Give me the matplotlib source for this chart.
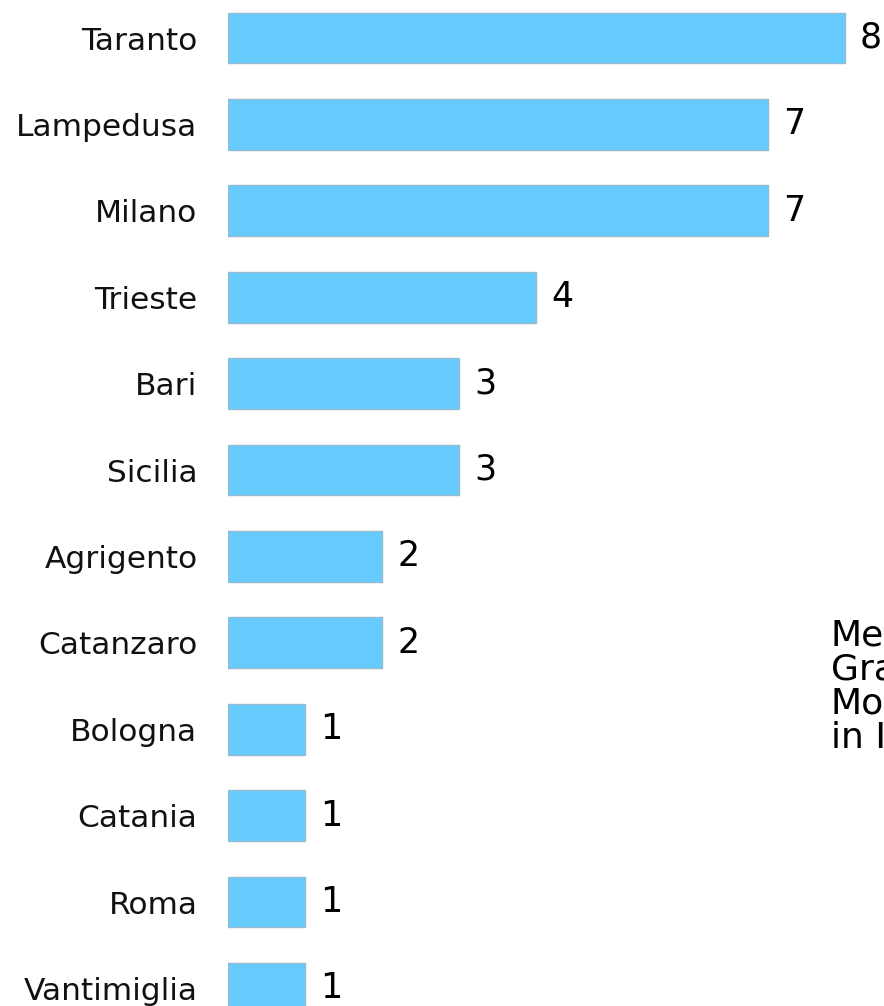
import matplotlib
matplotlib.use("Agg")
import matplotlib.pyplot as plt

# data
cities = ["Taranto", "Lampedusa", "Milano", "Trieste", "Bari", "Sicilia",
          "Agrigento", "Catanzaro", "Bologna", "Catania", "Roma", "Vantimiglia"]
counts = [8, 7, 7, 4, 3, 3, 2, 2, 1, 1, 1, 1]
side_note = "Media\nGrafico\nMorti\nin Italia"

W, H = 884, 1006
fig = plt.figure(figsize=(W / 100, H / 100), dpi=100)

# axes spans from the bar origin to the right edge, full height
x0 = 228
unit = 77.1     # px per count
step = 86.4     # px between bars
top_c = 38      # px of first bar centre
ax = fig.add_axes([x0 / W, 0, 1 - x0 / W, 1])
ax.set_xlim(0, (W - x0) / unit)
ax.set_ylim((H - top_c) / step, -top_c / step)

ypos = list(range(len(cities)))
ax.barh(ypos, counts, height=0.59, color="#66CCFF", edgecolor="#95B9CF", linewidth=1)

for y, v in zip(ypos, counts):
    ax.annotate(str(v), (v, y), xytext=(11, 0), textcoords="offset points",
                va="center", ha="left", fontsize=25, color="black")

ax.set_yticks(ypos)
ax.set_yticklabels(cities, fontsize=22.5, color="#111111")
ax.tick_params(axis="y", length=0, pad=22)
ax.set_xticks([])
for s in ax.spines.values():
    s.set_visible(False)

# note on the right, clipped by the figure edge as in the original
fig.text(831 / W, 1 - 618 / H, side_note, fontsize=26, va="top", ha="left",
         linespacing=1.0)

fig.savefig("out.png", dpi=100)
